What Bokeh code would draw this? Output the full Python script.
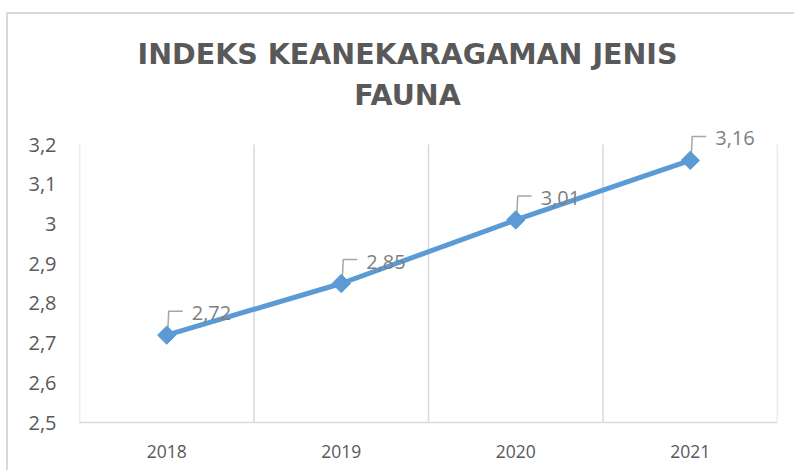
from math import pi
from bokeh.plotting import figure
from bokeh.models import FixedTicker, CustomJSTickFormatter, Range1d
from bokeh.core.properties import value
from bokeh.embed import file_html
from bokeh.resources import INLINE

# ---- data ----
years = ["2018", "2019", "2020", "2021"]
values = [2.72, 2.85, 3.01, 3.16]
y_ticks = [2.5, 2.6, 2.7, 2.8, 2.9, 3.0, 3.1, 3.2]
labels = [f"{v:.2f}".replace(".", ",") for v in values]
title_lines = ["INDEKS KEANEKARAGAMAN JENIS", "FAUNA"]

xpos = list(range(1, len(years) + 1))

# ---- layout ----
EXTRA = 130                     # headroom (px) above the 3,2 line: holds title and top label
L, R, T, B = 71, 17, 0, 48
FW, FH0 = 698, 278
FH = FH0 + EXTRA
y0, y1 = y_ticks[0], y_ticks[-1]
ux = len(years) / FW
uy = (y1 - y0) / FH0

p = figure(frame_width=FW, frame_height=FH,
           min_border_left=L, min_border_right=R, min_border_top=T, min_border_bottom=B,
           x_range=Range1d(0.5, len(years) + 0.5), y_range=Range1d(y0, y1 + EXTRA * uy),
           output_backend="svg", toolbar_location=None)
p.margin = (12, 0, 0, 6)
p.styles = {"border-top": "2px solid #d9d9d9", "border-left": "2px solid #d9d9d9"}
p.outline_line_color = None
p.background_fill_color = "white"
p.border_fill_color = "white"

# title: two centred lines above the plot area
xmid = (len(years) + 1) / 2
p.text(x=[xmid, xmid], y=[y1, y1], text=title_lines,
       x_offset=-21, y_offset=[-90, -49],
       text_align="center", text_baseline="middle",
       text_font=value("DejaVu Sans"), text_font_style="bold",
       text_font_size="28.5px", text_color="#595959")

# grids: vertical lines at category boundaries, from 2,5 up to 3,2
p.xgrid.visible = False
p.ygrid.visible = False
bounds = [x - 0.5 for x in xpos] + [xpos[-1] + 0.5]
p.segment(x0=bounds, y0=[y0] * len(bounds), x1=bounds, y1=[y1] * len(bounds),
          line_color="#d9d9d9", line_width=1.5)

# x axis
p.xaxis.ticker = FixedTicker(ticks=xpos)
p.xaxis.major_label_overrides = {x: y for x, y in zip(xpos, years)}
p.xaxis.axis_line_color = "#d9d9d9"
p.xaxis.axis_line_width = 1.5
p.xaxis.major_tick_line_color = None
p.xaxis.minor_tick_line_color = None
p.xaxis.major_label_text_font = "Open Sans"
p.xaxis.major_label_text_font_size = "17.5px"
p.xaxis.major_label_text_color = "#595959"
p.xaxis.major_label_standoff = 16

# y axis
p.yaxis.ticker = FixedTicker(ticks=y_ticks)
p.yaxis.formatter = CustomJSTickFormatter(
    code="return (Math.round(tick*10)/10).toString().replace('.', ',');")
p.yaxis.axis_line_color = None
p.yaxis.major_tick_line_color = None
p.yaxis.minor_tick_line_color = None
p.yaxis.major_label_text_font = "Open Sans"
p.yaxis.major_label_text_font_size = "20px"
p.yaxis.major_label_text_color = "#595959"
p.yaxis.major_label_standoff = 17

# leader lines (pixel offsets converted to data units)
lead_xs = [[x + 1 * ux, x + 2 * ux, x + 16 * ux] for x in xpos]
lead_ys = [[v + 4 * uy, v + 24 * uy, v + 24 * uy] for v in values]
p.multi_line(lead_xs, lead_ys, line_color="#a6a6a6", line_width=1.5)

# series
p.line(xpos, values, line_color="#5b9bd5", line_width=5)
p.scatter(xpos, values, marker="square", angle=pi / 4, size=13,
          fill_color="#5b9bd5", line_color="#5b9bd5")

# data labels
p.text(xpos, values, text=labels, x_offset=25, y_offset=-22,
       text_baseline="middle", text_align="left",
       text_font=value("Open Sans"), text_font_size="20px", text_color="#7f7f7f")

open("out.html", "w").write(file_html(p, INLINE))
